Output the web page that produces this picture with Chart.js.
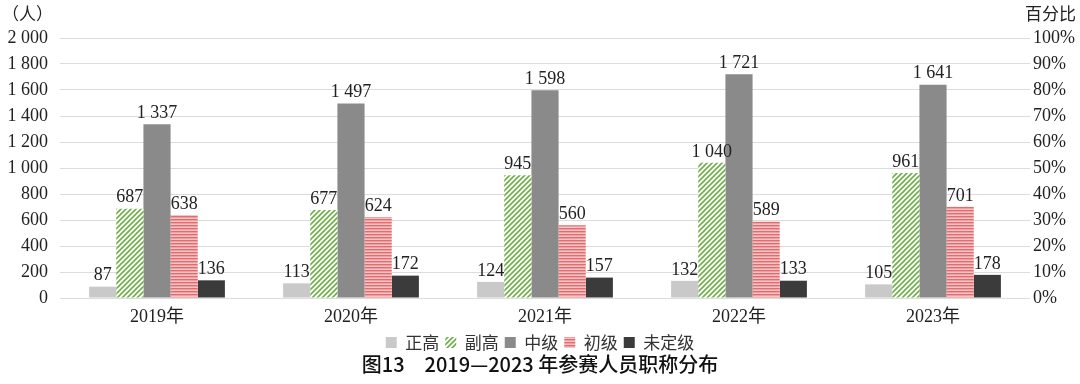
<!DOCTYPE html>
<html lang="zh">
<head>
  <meta charset="UTF-8">
  <title>2019—2023 年参赛人员职称分布</title>
  <script src="https://cdn.jsdelivr.net/npm/chart.js"></script>
  <style>
    html, body { margin: 0; padding: 0; background: #fff; }
    .chart-box { position: relative; width: 1080px; height: 384px; }
  </style>
</head>
<body>
  <div class="chart-box">
    <canvas id="titleChart"></canvas>
  </div>
  <script>
    // data
    const years = ["2019年", "2020年", "2021年", "2022年", "2023年"];
    const seriesNames = ["正高", "副高", "中级", "初级", "未定级"];
    const zhengGao = [87, 113, 124, 132, 105];
    const fuGao = [687, 677, 945, 1040, 961];
    const zhongJi = [1337, 1497, 1598, 1721, 1641];
    const chuJi = [638, 624, 560, 589, 701];
    const weiDing = [136, 172, 157, 133, 178];
    const leftTicks = [0, 200, 400, 600, 800, 1000, 1200, 1400, 1600, 1800, 2000];
    const rightTicks = [0, 10, 20, 30, 40, 50, 60, 70, 80, 90, 100];

    const numFont = "'Liberation Serif', 'Noto Sans CJK SC', serif";
    const zhFont = "'Noto Sans CJK SC', sans-serif";

    function fmt(n) {
      return String(n).replace(/\B(?=(\d{3})+(?!\d))/g, " ");
    }

    // diagonal green hatch
    function hatchGreen() {
      const c = document.createElement("canvas");
      c.width = 5; c.height = 5;
      const g = c.getContext("2d");
      g.fillStyle = "#ffffff";
      g.fillRect(0, 0, 5, 5);
      g.strokeStyle = "#6fb04a";
      g.lineWidth = 1.6;
      g.beginPath();
      g.moveTo(-1, 6); g.lineTo(6, -1);
      g.moveTo(-6, 6); g.lineTo(1, -1);
      g.moveTo(4, 6); g.lineTo(11, -1);
      g.stroke();
      return g.createPattern(c, "repeat");
    }

    // horizontal red stripes
    function stripeRed() {
      const c = document.createElement("canvas");
      c.width = 4; c.height = 3;
      const g = c.getContext("2d");
      g.fillStyle = "#f6c4c4";
      g.fillRect(0, 0, 4, 3);
      g.fillStyle = "#e46a6e";
      g.fillRect(0, 0, 4, 1.4);
      return g.createPattern(c, "repeat");
    }

    const valueLabels = {
      id: "valueLabels",
      afterDatasetsDraw(chart) {
        const ctx = chart.ctx;
        ctx.save();
        ctx.font = "18px " + numFont;
        ctx.fillStyle = "#222";
        ctx.textAlign = "center";
        ctx.textBaseline = "bottom";
        chart.data.datasets.forEach((ds, i) => {
          chart.getDatasetMeta(i).data.forEach((bar, j) => {
            ctx.fillText(fmt(ds.data[j]), bar.x, bar.y - 2);
          });
        });
        ctx.restore();
      }
    };

    const cornerText = {
      id: "cornerText",
      afterDraw(chart) {
        const ctx = chart.ctx;
        ctx.save();
        ctx.fillStyle = "#222";
        ctx.font = "17px " + zhFont;
        ctx.textBaseline = "middle";
        ctx.textAlign = "left";
        ctx.fillText("（人）", 2, 14);
        ctx.textAlign = "right";
        ctx.fillText("百分比", 1076, 14);
        ctx.restore();
      }
    };

    // legend box is a bit tall by default, trim it
    const legendHeight = {
      id: "legendHeight",
      beforeInit(chart) {
        const lg = chart.legend;
        if (!lg) return;
        const origFit = lg.fit;
        lg.fit = function () {
          origFit.call(this);
          this.height = 24;
        };
      }
    };

    new Chart(document.getElementById("titleChart"), {
      type: "bar",
      data: {
        labels: years,
        datasets: [
          { label: seriesNames[0], data: zhengGao, backgroundColor: "#c9c9c9" },
          { label: seriesNames[1], data: fuGao, backgroundColor: hatchGreen() },
          { label: seriesNames[2], data: zhongJi, backgroundColor: "#8a8a8a" },
          { label: seriesNames[3], data: chuJi, backgroundColor: stripeRed() },
          { label: seriesNames[4], data: weiDing, backgroundColor: "#3b3b3b" }
        ]
      },
      options: {
        responsive: true,
        maintainAspectRatio: false,
        animation: false,
        layout: { padding: { top: 38, left: 0, right: 0, bottom: 8 } },
        datasets: { bar: { categoryPercentage: 0.7, barPercentage: 1.0 } },
        plugins: {
          legend: {
            position: "bottom",
            labels: {
              boxWidth: 11, boxHeight: 11, padding: 6,
              color: "#333",
              font: { family: zhFont, size: 17 }
            }
          },
          title: {
            display: true,
            position: "bottom",
            text: "图13　2019—2023 年参赛人员职称分布",
            color: "#111",
            font: { family: zhFont, size: 20, weight: "500" },
            padding: { top: 0, bottom: 0 }
          },
          tooltip: { enabled: false }
        },
        scales: {
          x: {
            grid: { display: false, drawTicks: false },
            border: { display: false },
            afterFit(axis) { axis.height = 30; },
            ticks: { color: "#222", font: { family: numFont, size: 18 }, padding: 8 }
          },
          y: {
            position: "left",
            min: 0, max: 2000,
            afterBuildTicks(axis) { axis.ticks = leftTicks.map(v => ({ value: v })); },
            afterFit(axis) { axis.width = 60; },
            grid: { color: "#dcdcdc", drawTicks: false },
            border: { display: false },
            ticks: {
              color: "#222", padding: 12, autoSkip: false,
              font: { family: numFont, size: 18 },
              callback: v => fmt(v)
            }
          },
          y2: {
            position: "right",
            min: 0, max: 100,
            afterBuildTicks(axis) { axis.ticks = rightTicks.map(v => ({ value: v })); },
            afterFit(axis) { axis.width = 50; },
            grid: { display: false, drawTicks: false },
            border: { display: false },
            ticks: {
              color: "#222", padding: 3, autoSkip: false,
              font: { family: numFont, size: 18 },
              callback: v => v + "%"
            }
          }
        }
      },
      plugins: [valueLabels, cornerText, legendHeight]
    });
  </script>
</body>
</html>
